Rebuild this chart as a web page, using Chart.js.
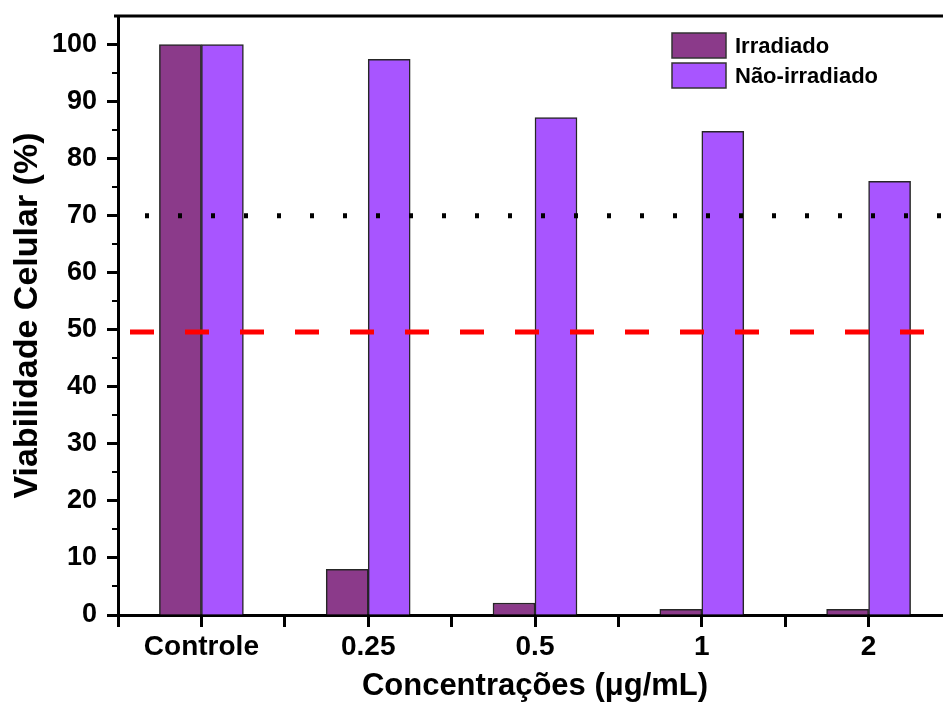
<!DOCTYPE html>
<html>
<head>
<meta charset="utf-8">
<script src="https://cdn.jsdelivr.net/npm/chart.js@4.4.1/dist/chart.umd.min.js"></script>
<style>
  html, body { margin: 0; padding: 0; background: #fff; overflow: hidden; }
  canvas { display: block; }
</style>
</head>
<body>
<canvas id="chart" width="960" height="704"></canvas>
<script>
// data
const categories = ["Controle", "0.25", "0.5", "1", "2"];
const irradiado = [100, 8.0, 2.1, 1.0, 1.0];
const naoIrradiado = [100, 97.4, 87.2, 84.8, 76.0];
const limiteToxicidade = 70;   // black dotted line
const limiteIC50 = 49.6;       // red dashed line

const FONT = '"Liberation Sans", Arial, sans-serif';
const toPoints = (arr) => arr.map((v, i) => ({ x: i, y: v }));

// reference lines, minor y ticks, top frame, legend
const extras = {
  id: "extras",
  afterDatasetsDraw(chart) {
    const { ctx, chartArea, scales } = chart;
    const y = scales.y;
    ctx.save();
    // dotted line at 70
    let py = y.getPixelForValue(limiteToxicidade);
    ctx.strokeStyle = "#000";
    ctx.lineWidth = 5;
    ctx.setLineDash([4, 29]);
    ctx.lineDashOffset = 6;
    ctx.beginPath();
    ctx.moveTo(chartArea.left, py);
    ctx.lineTo(chartArea.right, py);
    ctx.stroke();
    // dashed red line at ~50
    py = y.getPixelForValue(limiteIC50);
    ctx.strokeStyle = "#ff0000";
    ctx.lineWidth = 5;
    ctx.setLineDash([24, 31]);
    ctx.lineDashOffset = 43;
    ctx.beginPath();
    ctx.moveTo(chartArea.left, py);
    ctx.lineTo(chartArea.right, py);
    ctx.stroke();
    ctx.restore();
  },
  afterDraw(chart) {
    const { ctx, chartArea, scales } = chart;
    const y = scales.y;
    ctx.save();
    // minor ticks every 5
    ctx.strokeStyle = "#000";
    ctx.lineWidth = 2;
    for (let v = 5; v < y.max; v += 10) {
      const py = Math.round(y.getPixelForValue(v));
      ctx.beginPath();
      ctx.moveTo(chartArea.left - 6, py);
      ctx.lineTo(chartArea.left, py);
      ctx.stroke();
    }
    // top frame
    ctx.lineWidth = 3;
    ctx.beginPath();
    ctx.moveTo(chartArea.left - 4, chartArea.top);
    ctx.lineTo(chartArea.right, chartArea.top);
    ctx.stroke();

    // legend
    const boxX = 672, boxW = 54, boxH = 25;
    const rows = [33, 63];
    ctx.font = "bold 22px " + FONT;
    ctx.textBaseline = "middle";
    ctx.textAlign = "left";
    chart.data.datasets.forEach((ds, i) => {
      const top = rows[i];
      ctx.fillStyle = ds.backgroundColor;
      ctx.fillRect(boxX, top, boxW, boxH);
      ctx.strokeStyle = "#333";
      ctx.lineWidth = 1.5;
      ctx.strokeRect(boxX, top, boxW, boxH);
      ctx.fillStyle = "#000";
      ctx.fillText(ds.label, boxX + 63, top + boxH / 2 + 1);
    });
    ctx.restore();
  },
};

new Chart(document.getElementById("chart"), {
  type: "bar",
  data: {
    datasets: [
      {
        label: "Irradiado",
        data: toPoints(irradiado),
        backgroundColor: "#8b3a8a",
        borderColor: "#262626",
        borderWidth: 1.5,
      },
      {
        label: "Não-irradiado",
        data: toPoints(naoIrradiado),
        backgroundColor: "#a855ff",
        borderColor: "#262626",
        borderWidth: 1.5,
      },
    ],
  },
  options: {
    responsive: false,
    animation: false,
    barThickness: 42,
    layout: { padding: { top: 16, right: 8, left: 0, bottom: 0 } },
    plugins: { legend: { display: false }, tooltip: { enabled: false } },
    scales: {
      x: {
        type: "linear",
        offset: false,
        min: -0.5,
        max: 4.5,
        ticks: {
          stepSize: 0.5,
          autoSkip: false,
          maxRotation: 0,
          padding: 3,
          color: "#000",
          font: { family: FONT, size: 28, weight: "bold" },
          callback: (v) => (Number.isInteger(v) ? categories[v] : ""),
        },
        grid: {
          offset: false,
          drawOnChartArea: false,
          drawTicks: true,
          tickLength: 12,
          tickWidth: 3,
          tickColor: "#000",
        },
        border: { display: true, color: "#000", width: 3 },
        title: {
          display: true,
          text: "Concentrações (μg/mL)",
          color: "#000",
          padding: 0,
          font: { family: FONT, size: 31, weight: "bold", lineHeight: 1.1 },
        },
        afterFit: (scale) => {
          scale.height = 89;
          scale.paddingLeft = 0;
          scale.paddingRight = 0;
        },
      },
      y: {
        min: 0,
        max: 105,
        ticks: {
          stepSize: 5,
          padding: 10,
          color: "#000",
          font: { family: FONT, size: 27, weight: "bold" },
        },
        afterBuildTicks: (scale) => {
          scale.ticks = scale.ticks.filter((t) => t.value % 10 === 0);
        },
        grid: {
          drawOnChartArea: false,
          drawTicks: true,
          tickLength: 11,
          tickWidth: 3,
          tickColor: "#000",
        },
        border: { display: true, color: "#000", width: 3 },
        title: {
          display: true,
          text: "Viabilidade Celular (%)",
          color: "#000",
          padding: { top: 8, bottom: 0 },
          font: { family: FONT, size: 34, weight: "bold", lineHeight: 1.15 },
        },
        afterFit: (scale) => {
          scale.width = 118;
          scale.paddingTop = 0;
          scale.paddingBottom = 0;
        },
      },
    },
  },
  plugins: [extras],
});
</script>
</body>
</html>
